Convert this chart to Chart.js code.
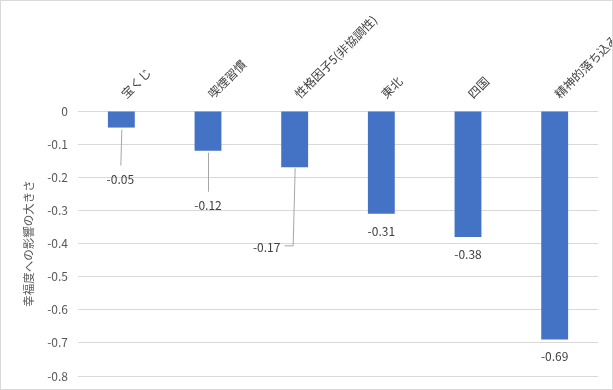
<!DOCTYPE html>
<html lang="ja">
<head>
<meta charset="UTF-8">
<title>幸福度への影響の大きさ</title>
<script src="https://cdn.jsdelivr.net/npm/chart.js"></script>
<style>
  html, body { margin: 0; padding: 0; background: #fff; }
  .wrap {
    width: 611px; height: 388px;
    border: 1px solid #d9d9d9;
    position: relative;
  }
</style>
</head>
<body>
<div class="wrap"><canvas id="chart"></canvas></div>
<script>
const categories = ["宝くじ", "喫煙習慣", "性格因子5(非協調性)", "東北", "四国", "精神的落ち込み"];
const effects = [-0.05, -0.12, -0.17, -0.31, -0.38, -0.69];
const yTitle = "幸福度への影響の大きさ";

const FONT = "'Noto Sans CJK JP', 'Noto Sans', sans-serif";

// ラベルの位置（棒の端からのずれ）と引き出し線
const labelOffsets = [
  { dx: -1, dy: 52, leader: true },
  { dx: 0, dy: 55, leader: true },
  { dx: -28, dy: 80, leader: true, elbow: true },
  { dx: 0, dy: 18 },
  { dx: 0, dy: 18 },
  { dx: 0, dy: 17 }
];

const barLabels = {
  id: "barLabels",
  afterDatasetsDraw(chart) {
    const ctx = chart.ctx;
    const meta = chart.getDatasetMeta(0);
    ctx.save();
    ctx.font = "12px " + FONT;
    ctx.fillStyle = "#404040";
    ctx.textAlign = "center";
    ctx.textBaseline = "middle";
    meta.data.forEach((bar, i) => {
      const o = labelOffsets[i];
      const lx = bar.x + o.dx, ly = bar.y + o.dy;
      if (o.leader) {
        ctx.strokeStyle = "#a6a6a6";
        ctx.lineWidth = 1;
        ctx.beginPath();
        if (o.elbow) {
          ctx.moveTo(bar.x + 0.5, bar.y + 1);
          ctx.lineTo(bar.x - 1.5, ly - 1.5);
          ctx.lineTo(lx + 18, ly - 1.5);
        } else {
          ctx.moveTo(bar.x + 0.5, bar.y + 2);
          ctx.lineTo(lx + 0.5, ly - 14);
        }
        ctx.stroke();
      }
      ctx.fillText(String(effects[i]), lx, ly);
    });
    ctx.restore();
  }
};

// 上側の斜めの項目名と縦の軸タイトル（Excel風の位置）
const axisText = {
  id: "axisText",
  afterDraw(chart) {
    const ctx = chart.ctx;
    const xs = chart.scales.x;
    const area = chart.chartArea;
    ctx.save();
    ctx.fillStyle = "#404040";
    ctx.font = "12px " + FONT;
    ctx.textAlign = "left";
    ctx.textBaseline = "middle";
    categories.forEach((c, i) => {
      const x = xs.getPixelForTick(i);
      ctx.save();
      ctx.translate(x + 2, area.top - 15);
      ctx.rotate(-Math.PI / 4);
      ctx.fillText(c, 0, 0);
      ctx.restore();
    });
    ctx.font = "11.5px " + FONT;
    ctx.fillStyle = "#595959";
    ctx.textAlign = "center";
    ctx.translate(28, (area.top + area.bottom) / 2);
    ctx.rotate(-Math.PI / 2);
    ctx.fillText(yTitle, 0, 0);
    ctx.restore();
  }
};

new Chart(document.getElementById("chart"), {
  type: "bar",
  data: {
    labels: categories,
    datasets: [{
      data: effects,
      backgroundColor: "#4472c4",
      barPercentage: 0.31,
      categoryPercentage: 1
    }]
  },
  options: {
    responsive: true,
    maintainAspectRatio: false,
    animation: false,
    layout: { padding: { left: 10, right: 14, top: 0, bottom: 13 } },
    plugins: {
      legend: { display: false },
      tooltip: { enabled: false }
    },
    scales: {
      x: {
        position: "top",
        grid: { display: false, drawTicks: false },
        border: { display: false },
        ticks: { display: false },
        afterFit(scale) {
          scale.height = 110;
          scale.paddingLeft = 0;
          scale.paddingRight = 0;
        }
      },
      y: {
        min: -0.8,
        max: 0,
        ticks: {
          stepSize: 0.1,
          color: "#595959",
          padding: 10,
          font: { family: FONT, size: 12 },
          callback: v => Math.round(v * 10) / 10
        },
        grid: { color: "#d9d9d9", drawTicks: false },
        border: { display: false },
        afterFit(scale) {
          scale.width = 67;
          scale.paddingTop = 0;
          scale.paddingBottom = 0;
        }
      }
    }
  },
  plugins: [barLabels, axisText]
});
</script>
</body>
</html>
